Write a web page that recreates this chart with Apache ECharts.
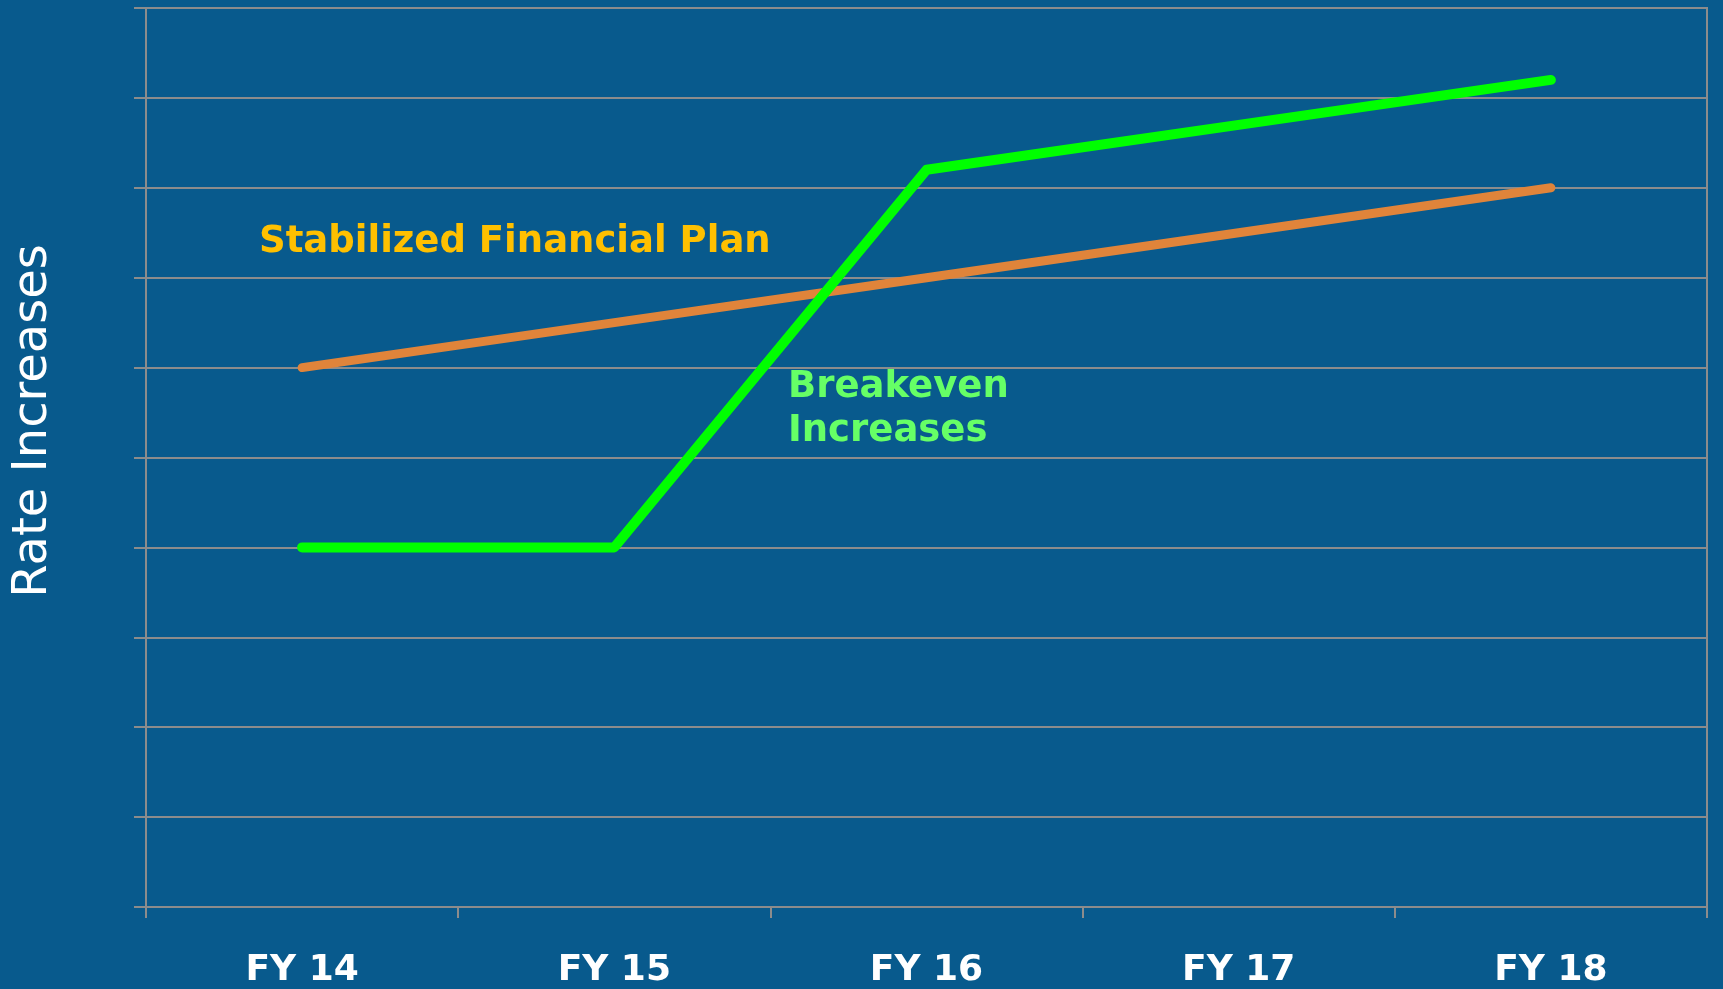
<!DOCTYPE html>
<html>
<head>
<meta charset="utf-8">
<script src="https://cdn.jsdelivr.net/npm/echarts@6/dist/echarts.min.js"></script>
<style>
html,body{margin:0;padding:0;background:#085a8d;}
#chart{width:1723px;height:989px;}
</style>
</head>
<body>
<div id="chart"></div>
<script>
const categories = ['FY 14', 'FY 15', 'FY 16', 'FY 17', 'FY 18'];
const stabilizedPlan = [6.0, 6.5, 7.0, 7.5, 8.0];
const breakevenIncreases = [4.0, 4.0, 8.2, 8.7, 9.2];
const yAxisTitle = 'Rate Increases';
const planLabel = 'Stabilized Financial Plan';
const breakevenLabel = 'Breakeven\nIncreases';

const chart = echarts.init(document.getElementById('chart'));
const grey = '#8c8c8c';
chart.setOption({
  backgroundColor: '#085a8d',
  animation: false,
  grid: { left: 146, right: 16, top: 8, bottom: 77, show: true, borderColor: grey, borderWidth: 2 },
  xAxis: {
    type: 'category',
    data: categories,
    boundaryGap: true,
    axisLine: { show: true, lineStyle: { color: grey, width: 2 } },
    axisTick: { show: true, length: 11, inside: false, lineStyle: { color: grey, width: 2 } },
    axisLabel: { color: '#ffffff', fontFamily: 'DejaVu Sans', fontWeight: 'bold', fontSize: 36, margin: 46 },
    splitLine: { show: false }
  },
  yAxis: {
    type: 'value',
    min: 0, max: 10, interval: 1,
    axisLine: { show: true, lineStyle: { color: grey, width: 2 } },
    axisTick: { show: true, length: 12, lineStyle: { color: grey, width: 2 } },
    axisLabel: { show: false },
    splitLine: { show: true, lineStyle: { color: grey, width: 2 } }
  },
  series: [
    {
      type: 'line',
      data: stabilizedPlan,
      symbol: 'none',
      lineStyle: { color: '#e0843a', width: 9, cap: 'round', join: 'round' },
      z: 3
    },
    {
      type: 'line',
      data: breakevenIncreases,
      symbol: 'none',
      lineStyle: { color: '#00ff00', width: 10, cap: 'round', join: 'round' },
      z: 4
    }
  ],
  graphic: [
    {
      type: 'text', x: 34, y: 421, rotation: Math.PI / 2,
      style: { text: yAxisTitle, fill: '#ffffff', font: '48px "DejaVu Sans"', align: 'center', verticalAlign: 'middle' }
    },
    {
      type: 'text', left: 259, top: 224,
      style: { text: planLabel, fill: '#ffc000', font: 'bold 37px "DejaVu Sans"' }
    },
    {
      type: 'text', left: 788, top: 365,
      style: { text: breakevenLabel, fill: '#66ff66', font: 'bold 37px "DejaVu Sans"', lineHeight: 44 }
    }
  ]
});
</script>
</body>
</html>
